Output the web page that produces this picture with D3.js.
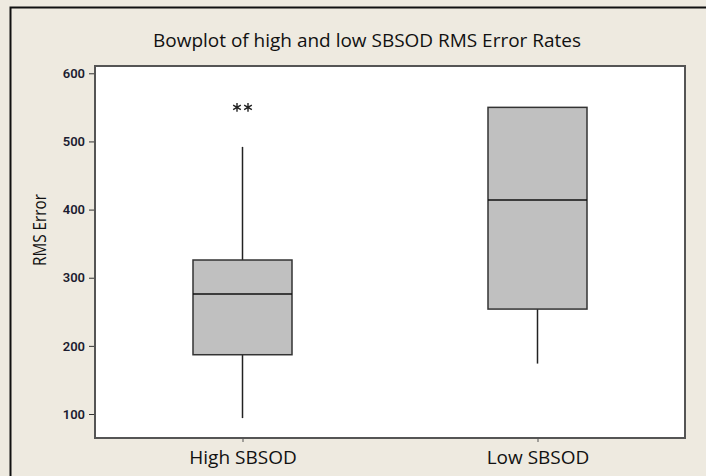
<!DOCTYPE html>
<html>
<head>
<meta charset="utf-8">
<script src="https://cdn.jsdelivr.net/npm/d3@7"></script>
<style>
  body { margin: 0; background: #eeeae0; }
  text { font-family: "Open Sans", "DejaVu Sans", sans-serif; }
</style>
</head>
<body>
<svg id="chart" width="706" height="476"></svg>
<script>
// box summaries
var groups = ['High SBSOD', 'Low SBSOD'];
var whiskerLow = [94, 174];
var q1 = [187, 254];
var median = [276, 414];
var q3 = [326, 550];
var whiskerHigh = [492, 550];
var outliers = [[550, 550], []];
var yTicks = [100, 200, 300, 400, 500, 600];

(function() {
  var svg = d3.select('#chart');
  var pLeft = 95, pRight = 685, pTop = 66, pBottom = 438;

  // outer frame
  svg.append('rect')
    .attr('x', 10.5).attr('y', 7.5)
    .attr('width', 740).attr('height', 500)
    .attr('fill', '#eeeae0')
    .attr('stroke', '#111').attr('stroke-width', 2);

  svg.append('text')
    .attr('x', 367).attr('y', 47)
    .attr('text-anchor', 'middle')
    .attr('font-size', 18)
    .attr('textLength', 428).attr('lengthAdjust', 'spacingAndGlyphs')
    .attr('fill', '#111')
    .text('Bowplot of high and low SBSOD RMS Error Rates');

  var x = d3.scalePoint().domain(groups).range([pLeft, pRight]).padding(0.5);
  var y = d3.scaleLinear().domain([64.8, 610.7]).range([pBottom, pTop]);
  var boxW = 99;

  svg.append('rect')
    .attr('x', pLeft).attr('y', pTop)
    .attr('width', pRight - pLeft).attr('height', pBottom - pTop)
    .attr('fill', '#fff');

  var yAxis = svg.append('g')
    .attr('transform', 'translate(' + pLeft + ',0)')
    .call(d3.axisLeft(y).tickValues(yTicks).tickSize(6).tickPadding(4));
  yAxis.select('.domain').remove();
  yAxis.selectAll('line').attr('stroke', '#333');
  yAxis.selectAll('text')
    .attr('font-size', 13).attr('font-weight', 600)
    .attr('fill', '#1c1c30')
    .style('font-family', 'Roboto, "DejaVu Sans", sans-serif');

  var xAxis = svg.append('g')
    .attr('transform', 'translate(0,' + pBottom + ')')
    .call(d3.axisBottom(x).tickSize(4).tickPadding(9));
  xAxis.select('.domain').remove();
  xAxis.selectAll('line').attr('stroke', '#555');
  xAxis.selectAll('text')
    .attr('font-size', 19).attr('fill', '#111');

  svg.append('text')
    .attr('transform', 'translate(46,230) rotate(-90)')
    .attr('text-anchor', 'middle')
    .attr('font-size', 19).attr('fill', '#111')
    .attr('textLength', 72).attr('lengthAdjust', 'spacingAndGlyphs')
    .text('RMS Error');

  var g = svg.append('g');
  groups.forEach(function(name, i) {
    var cx = x(name);
    g.append('line')
      .attr('x1', cx).attr('x2', cx)
      .attr('y1', y(whiskerLow[i])).attr('y2', y(q1[i]))
      .attr('stroke', '#222').attr('stroke-width', 1.5);
    g.append('line')
      .attr('x1', cx).attr('x2', cx)
      .attr('y1', y(q3[i])).attr('y2', y(whiskerHigh[i]))
      .attr('stroke', '#222').attr('stroke-width', 1.5);
    g.append('rect')
      .attr('x', cx - boxW / 2).attr('y', y(q3[i]))
      .attr('width', boxW).attr('height', y(q1[i]) - y(q3[i]))
      .attr('fill', '#c0c0c0')
      .attr('stroke', '#333').attr('stroke-width', 1.5);
    g.append('line')
      .attr('x1', cx - boxW / 2).attr('x2', cx + boxW / 2)
      .attr('y1', y(median[i])).attr('y2', y(median[i]))
      .attr('stroke', '#111').attr('stroke-width', 1.5);
    // tied outliers sit side by side
    outliers[i].forEach(function(v, k) {
      var off = (k - (outliers[i].length - 1) / 2) * 11;
      g.append('path')
        .attr('transform', 'translate(' + (cx + off) + ',' + y(v) + ')')
        .attr('d', d3.symbol().type(d3.symbolAsterisk).size(55)())
        .attr('fill', 'none')
        .attr('stroke', '#222').attr('stroke-width', 1.4);
    });
  });

  // plot frame
  svg.append('rect')
    .attr('x', pLeft).attr('y', pTop)
    .attr('width', pRight - pLeft).attr('height', pBottom - pTop)
    .attr('fill', 'none')
    .attr('stroke', '#555').attr('stroke-width', 2);
})();
</script>
</body>
</html>
